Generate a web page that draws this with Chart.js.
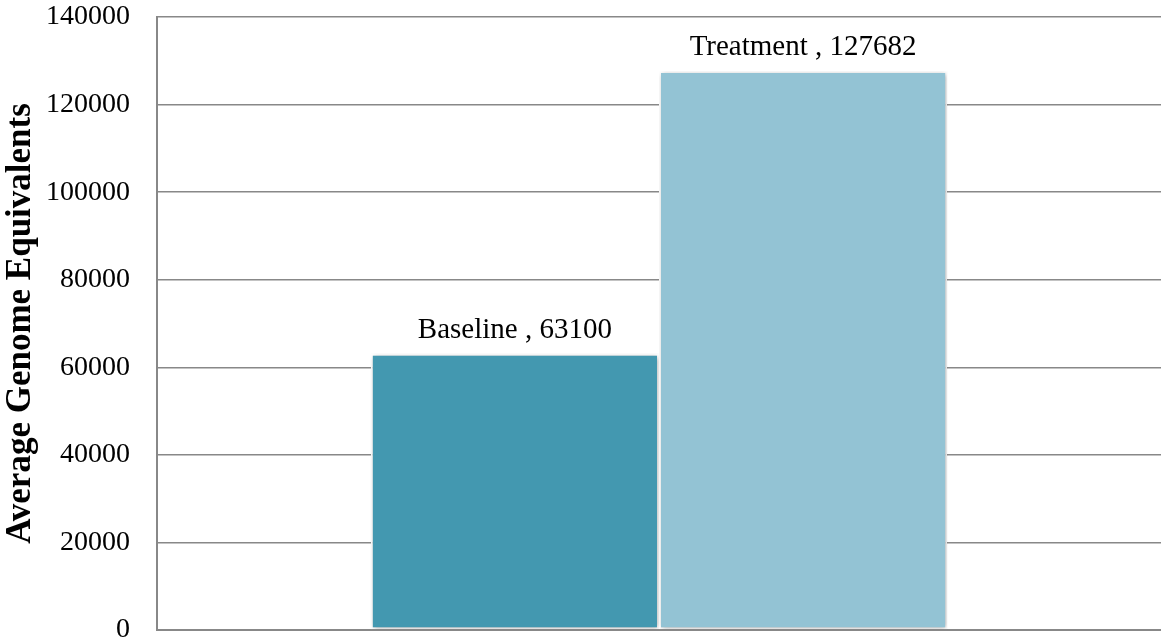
<!DOCTYPE html>
<html>
<head>
<meta charset="utf-8">
<script src="https://cdn.jsdelivr.net/npm/chart.js@4.4.0/dist/chart.umd.min.js"></script>
<style>
html,body{margin:0;padding:0;background:#fff;}
#wrap{width:1161px;height:643px;}
</style>
</head>
<body>
<div id="wrap"><canvas id="c" width="1161" height="643"></canvas></div>
<script>
const categories = [''];
const seriesNames = ['Baseline', 'Treatment'];
const seriesValues = [[63100], [127682]];
const seriesColors = ['#4398b0', '#93c3d4'];
const yTitle = 'Average Genome Equivalents';
const yMin = 0, yMax = 140000, yStep = 20000;

const labelPlugin = {
  id: 'barLabels',
  afterDatasetsDraw(chart) {
    const ctx = chart.ctx;
    ctx.save();
    ctx.font = '29px "Liberation Serif", serif';
    ctx.fillStyle = '#000';
    ctx.textAlign = 'center';
    ctx.textBaseline = 'bottom';
    chart.data.datasets.forEach((ds, i) => {
      const meta = chart.getDatasetMeta(i);
      meta.data.forEach((bar, j) => {
        ctx.fillText(ds.label + ' , ' + ds.data[j], bar.x, bar.y - 9);
      });
    });
    ctx.restore();
  }
};
const shadowPlugin = {
  id: 'barShadow',
  beforeDatasetDraw(chart) {
    const ctx = chart.ctx;
    ctx.save();
    ctx.shadowColor = 'rgba(0,0,0,0.35)';
    ctx.shadowBlur = 5;
    ctx.shadowOffsetX = 1;
    ctx.shadowOffsetY = 1;
  },
  afterDatasetDraw(chart) { chart.ctx.restore(); }
};

new Chart(document.getElementById('c'), {
  type: 'bar',
  data: {
    labels: categories,
    datasets: seriesNames.map((n, i) => ({
      label: n,
      data: seriesValues[i],
      backgroundColor: seriesColors[i],
      borderColor: '#ffffff',
      borderWidth: 2,
      borderSkipped: false
    }))
  },
  options: {
    responsive: false,
    animation: false,
    devicePixelRatio: 1,
    layout: { padding: { top: 17, right: 0, bottom: 13, left: 0 } },
    datasets: { bar: { categoryPercentage: 0.574, barPercentage: 1 } },
    plugins: { legend: { display: false }, tooltip: { enabled: false } },
    scales: {
      x: {
        grid: { display: false },
        ticks: { display: false },
        border: { display: true, color: '#888888', width: 2 },
        afterFit(scale) { scale.height = 0; scale.paddingLeft = 0; scale.paddingRight = 0; }
      },
      y: {
        min: yMin, max: yMax,
        ticks: { stepSize: yStep, color: '#000', padding: 27,
          callback: v => String(v),
          font: { family: '"Liberation Serif", serif', size: 28 } },
        grid: { color: '#888888', lineWidth: 1.5, drawTicks: false },
        border: { display: true, color: '#888888', width: 2 },
        title: { display: true, text: yTitle, color: '#000',
          font: { family: '"Liberation Serif", serif', size: 35, weight: 'bold' }, padding: 0 },
        afterFit(scale) { scale.width = 157; scale.paddingTop = 0; scale.paddingBottom = 0; }
      }
    }
  },
  plugins: [shadowPlugin, labelPlugin]
});
</script>
</body>
</html>
